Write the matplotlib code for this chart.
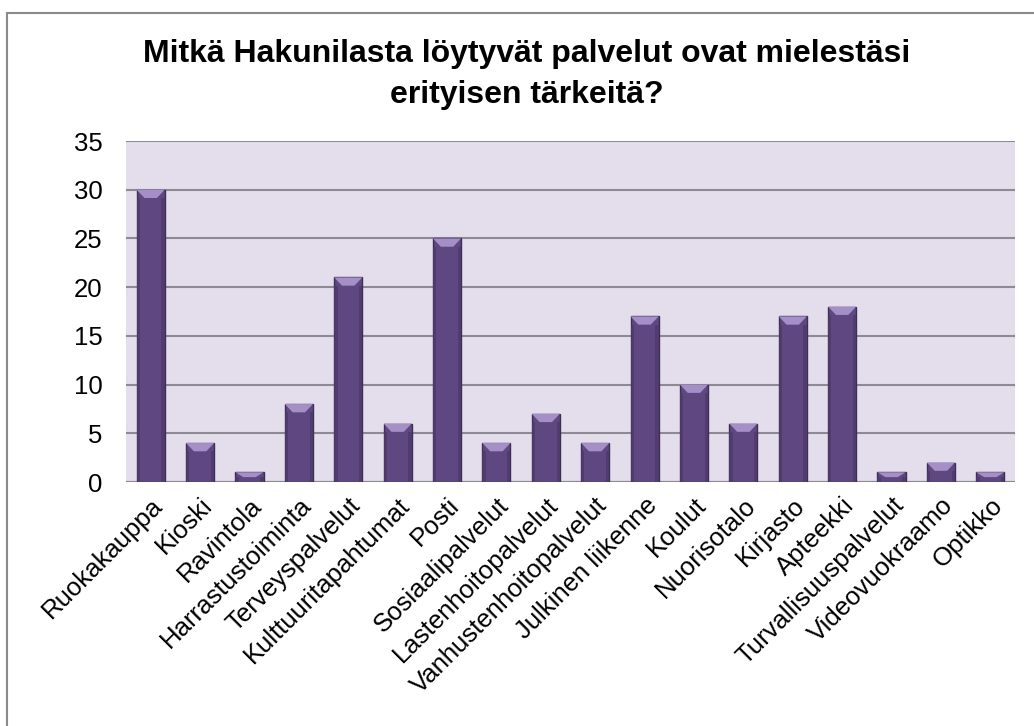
import matplotlib
matplotlib.use("Agg")
import matplotlib.pyplot as plt
from matplotlib.patches import Polygon, Rectangle

# survey answers
categories = ["Ruokakauppa", "Kioski", "Ravintola", "Harrastustoiminta",
              "Terveyspalvelut", "Kulttuuritapahtumat", "Posti",
              "Sosiaalipalvelut", "Lastenhoitopalvelut", "Vanhustenhoitopalvelut",
              "Julkinen liikenne", "Koulut", "Nuorisotalo", "Kirjasto",
              "Apteekki", "Turvallisuuspalvelut", "Videovuokraamo", "Optikko"]
counts = [30, 4, 1, 8, 21, 6, 25, 4, 7, 4, 17, 10, 6, 17, 18, 1, 2, 1]
yticks = [0, 5, 10, 15, 20, 25, 30, 35]

title_lines = ["Mitkä Hakunilasta löytyvät palvelut ovat mielestäsi",
               "erityisen tärkeitä?"]

plt.rcParams['font.family'] = ['Liberation Sans', 'DejaVu Sans']

W, H = 1034, 726
fig = plt.figure(figsize=(W / 100, H / 100), dpi=100)
fig.patch.set_facecolor("white")
# outer chart frame (runs off the right/bottom edge like the source)
fig.patches.append(Rectangle((7 / W, -0.1), 1.2, 1 - 13 / H + 0.1,
                             transform=fig.transFigure, fill=False,
                             edgecolor="#8a8a8a", linewidth=1.5))

ax = fig.add_axes([126 / W, 1 - 482 / H, (1015 - 126) / W, (482 - 141) / H])
ax.set_facecolor("#e4deec")

bw = 0.57
bars = ax.bar(range(len(categories)), counts, width=bw, color="#5f4881",
              edgecolor="#3e2d57", linewidth=1.0, zorder=3)

# bevel: lighter chevron on top, darker sides
for b in bars:
    x0, w, h = b.get_x(), b.get_width(), b.get_height()
    d = min(0.85, h * 0.5)
    ins = w * 0.28
    ax.add_patch(Polygon([(x0, h), (x0 + w, h), (x0 + w - ins, h - d), (x0 + ins, h - d)],
                         closed=True, facecolor="#a48fc6", edgecolor="none", zorder=4))
    sw = w * 0.12
    ax.add_patch(Rectangle((x0, 0), sw, h - d, facecolor="#4d3a6a",
                           edgecolor="none", zorder=4, alpha=0.8))
    ax.add_patch(Rectangle((x0 + w - sw, 0), sw, h - d, facecolor="#4d3a6a",
                           edgecolor="none", zorder=4, alpha=0.8))

ax.set_xlim(-0.5, len(categories) - 0.5)
ax.set_ylim(0, 35)
ax.set_yticks(yticks)
ax.yaxis.grid(True, color="#8e8a94", linewidth=1.5, zorder=1)
ax.set_axisbelow(True)
for s in ax.spines.values():
    s.set_visible(False)
ax.axhline(0, color="#8e8a94", linewidth=1.5, zorder=2)

ax.tick_params(axis="both", length=0)
ax.tick_params(axis="y", pad=17, labelsize=18.5)
ax.set_xticks(range(len(categories)))
ax.set_xticklabels(categories, rotation=45, ha="right", rotation_mode="anchor",
                   fontsize=18.5)
ax.tick_params(axis="x", pad=8)

fig.text(527 / W, 1 - 62 / H, title_lines[0], ha="center", va="baseline",
         fontsize=23, fontweight="bold")
fig.text(527 / W, 1 - 103 / H, title_lines[1], ha="center", va="baseline",
         fontsize=23, fontweight="bold")

fig.savefig("out.png", dpi=100)
